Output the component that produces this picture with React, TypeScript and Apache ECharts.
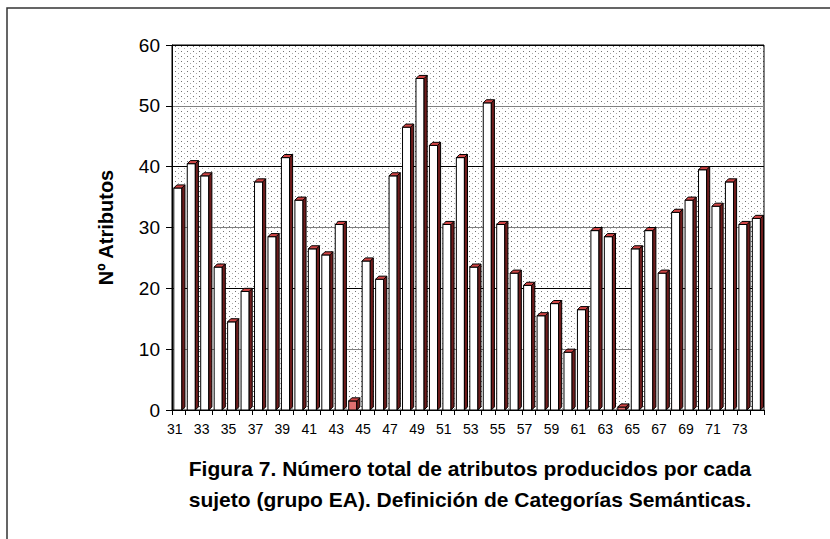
import React, { useEffect, useRef } from "react";
import * as echarts from "echarts";

const categories: string[] = [
  "31","32","33","34","35","36","37","38","39","40","41","42","43","44","45","46","47","48","49","50","51","52",
  "53","54","55","56","57","58","59","60","61","62","63","64","65","66","67","68","69","70","71","72","73","74",
];
const values: number[] = [
  37, 41, 39, 24, 15, 20, 38, 29, 42, 35, 27, 26, 31, 2, 25, 22, 39, 47, 55, 44, 31, 42,
  24, 51, 31, 23, 21, 16, 18, 10, 17, 30, 29, 1, 27, 30, 23, 33, 35, 40, 34, 38, 31, 32,
];
const yAxisName = "Nº Atributos";
const titleLines = [
  "Figura 7. Número total de atributos producidos por cada",
  "sujeto (grupo EA). Definición de Categorías Semánticas.",
];

function makePattern(): string {
  const c = document.createElement("canvas");
  c.width = 6;
  c.height = 5;
  const ctx = c.getContext("2d")!;
  ctx.fillStyle = "#ffffff";
  ctx.fillRect(0, 0, 6, 5);
  ctx.fillStyle = "#707070";
  ctx.fillRect(1, 1, 1, 1);
  ctx.fillStyle = "#a8a8a8";
  ctx.fillRect(4, 3, 1, 1);
  return c.toDataURL();
}

export default function App() {
  const ref = useRef<HTMLDivElement>(null);
  useEffect(() => {
    if (!ref.current) return;
    const chart = echarts.init(ref.current, undefined, { renderer: "svg" });
    const pat = makePattern();
    const font = "Arial, 'Liberation Sans', sans-serif";
    chart.setOption({
      animation: false,
      textStyle: { fontFamily: font },
      title: {
        text: titleLines.join("\n"),
        left: 465,
        top: 448,
        textAlign: "center",
        textStyle: { fontSize: 21, fontWeight: "bold", color: "#000", lineHeight: 31, fontFamily: font },
      },
      graphic: [
        {
          type: "rect",
          shape: { x: 7, y: 8, width: 900, height: 600 },
          style: { fill: "none", stroke: "#333", lineWidth: 1.5 },
          silent: true,
        },
      ],
      grid: {
        left: 172,
        right: 66,
        top: 45,
        bottom: 129,
        show: true,
        backgroundColor: { image: pat, repeat: "repeat", imageWidth: 6, imageHeight: 5 } as any,
        borderColor: "#000",
        borderWidth: 1,
      },
      xAxis: {
        type: "category",
        data: categories,
        axisLine: { show: true, lineStyle: { color: "#000", width: 1 } },
        axisTick: { show: true, interval: 0, length: 5, lineStyle: { color: "#000" } },
        axisLabel: { interval: 1, fontSize: 14, color: "#000", margin: 12, padding: [0, 8, 0, 0], fontFamily: font },
        splitLine: { show: false },
      },
      yAxis: {
        type: "value",
        min: 0,
        max: 60,
        interval: 10,
        name: yAxisName,
        nameLocation: "middle",
        nameGap: 56,
        nameTextStyle: { fontSize: 20, fontWeight: "bold", color: "#000", fontFamily: font },
        axisLine: { show: true, lineStyle: { color: "#000", width: 1 } },
        axisTick: { show: true, length: 6, lineStyle: { color: "#000" } },
        axisLabel: { fontSize: 19, color: "#000", margin: 12, fontFamily: font },
        splitLine: { show: true, lineStyle: { color: ["#000", "#808080"], width: 1.2 } },
      },
      series: [
        {
          type: "custom",
          data: values.map((v, i) => [i, v]),
          renderItem: (params: any, api: any) => {
            const idx = api.value(0);
            const v = api.value(1);
            const c = api.coord([idx, v]);
            const c0 = api.coord([idx, 0]);
            const bw = api.size([1, 0])[0];
            const x0 = c[0] - bw / 2 + 1.8;
            const w = bw * 0.6;
            const d = bw * 0.23;
            const yv = c[1];
            const y0 = c0[1];
            const stroke = { stroke: "#000", lineWidth: 1 };
            return {
              type: "group",
              children: [
                {
                  type: "rect",
                  shape: { x: x0, y: yv + d, width: w, height: Math.max(0, y0 - yv - d) },
                  style: { fill: v < 3 ? "#e07070" : "#ffffff", ...stroke },
                },
                {
                  type: "polygon",
                  shape: {
                    points: [
                      [x0 + w, yv + d],
                      [x0 + w + d, yv],
                      [x0 + w + d, y0 - d],
                      [x0 + w, y0],
                    ],
                  },
                  style: { fill: "#6e1c1c", ...stroke },
                },
                {
                  type: "polygon",
                  shape: {
                    points: [
                      [x0, yv + d],
                      [x0 + d, yv],
                      [x0 + w + d, yv],
                      [x0 + w, yv + d],
                    ],
                  },
                  style: { fill: "#d04545", ...stroke },
                },
              ],
            };
          },
        },
      ],
    });
    return () => chart.dispose();
  }, []);
  return <div ref={ref} style={{ width: 830, height: 539, position: "absolute", left: 0, top: 0 }} />;
}
